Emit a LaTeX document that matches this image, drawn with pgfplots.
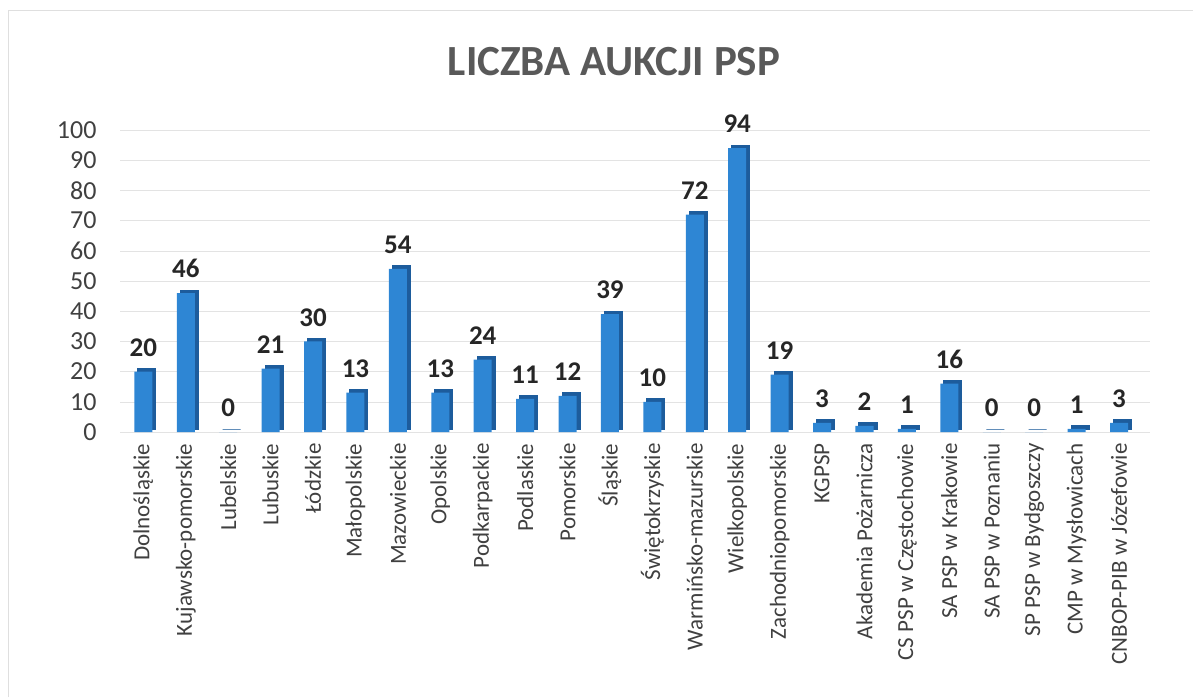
\documentclass[border=0pt]{standalone}
\usepackage{fontspec}
\setmainfont{Carlito}
\usepackage{pgfplots}
\pgfplotsset{compat=1.18}
\usepackage{pgfplotstable}

\definecolor{barfront}{HTML}{2E86D4}
\definecolor{barside}{HTML}{1D5C9C}
\definecolor{labelgray}{HTML}{404040}
\definecolor{titlegray}{HTML}{595959}

% liczba aukcji wg jednostki
\pgfplotstableread{
idx v
0 20
1 46
2 0
3 21
4 30
5 13
6 54
7 13
8 24
9 11
10 12
11 39
12 10
13 72
14 94
15 19
16 3
17 2
18 1
19 16
20 0
21 0
22 1
23 3
}\aukcje

\begin{document}
\begin{tikzpicture}
\useasboundingbox (0,0) rectangle (1201pt,697pt);
\draw[gray!25] (8pt,0pt) -- (8pt,687pt) -- (1193pt,687pt);
\node[font=\bfseries\fontsize{43}{47}\selectfont, text=titlegray] at (614pt,635pt) {LICZBA AUKCJI PSP};
\begin{axis}[
  at={(120pt,265pt)}, anchor=south west,
  scale only axis, width=1030pt, height=302pt,
  xmin=-0.55, xmax=23.73, ymin=0, ymax=100,
  ytick={0,10,...,100},
  xtick=data,
  xticklabels={Dolnośląskie, Kujawsko-pomorskie, Lubelskie, Lubuskie, Łódzkie,
    Małopolskie, Mazowieckie, Opolskie, Podkarpackie, Podlaskie, Pomorskie,
    Śląskie, Świętokrzyskie, Warmińsko-mazurskie, Wielkopolskie,
    Zachodniopomorskie, KGPSP, Akademia Pożarnicza, CS PSP w Częstochowie,
    SA PSP w Krakowie, SA PSP w Poznaniu, SP PSP w Bydgoszczy,
    CMP w Mysłowicach, CNBOP-PIB w Józefowie},
  x tick label style={rotate=90, anchor=east, font=\fontsize{23}{26}\selectfont, text=labelgray},
  xticklabel shift=8pt,
  y tick label style={font=\fontsize{26}{29}\selectfont, text=labelgray},
  yticklabel shift=20pt,
  /pgf/number format/assume math mode=true,
  axis line style={draw=none},
  major tick length=0pt,
  ymajorgrids, grid style={gray!22},
  ybar, bar width=18pt,
  clip=false,
]
\addplot[fill=barside, draw=barside, line width=1pt, bar shift=3.5pt, yshift=3pt]
  table[x=idx, y=v] {\aukcje};
\addplot[fill=barfront, draw=none, bar shift=0pt,
  nodes near coords,
  every node near coord/.append style={font=\bfseries\fontsize{27}{30}\selectfont,
    text=black!85, anchor=south, inner sep=0pt, yshift=15pt}]
  table[x=idx, y=v] {\aukcje};
\end{axis}
\end{tikzpicture}
\end{document}
